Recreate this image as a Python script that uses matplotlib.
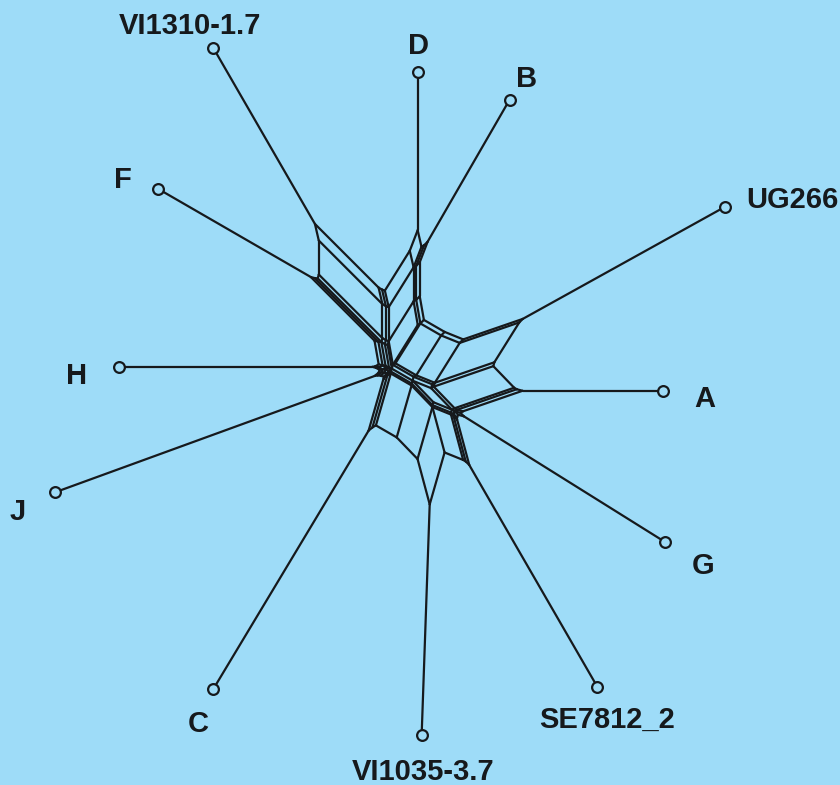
import numpy as np
import matplotlib
matplotlib.use("Agg")
import matplotlib.pyplot as plt
from matplotlib.collections import LineCollection

# ---- data -------------------------------------------------------------
taxa = ["VI1310-1.7", "D", "B", "UG266", "A", "G",
        "SE7812_2", "VI1035-3.7", "C", "J", "H", "F"]
# direction of each pendant edge (degrees), taxa in circular order
taxon_angle = [120, 90, 60, 29, 0, -32, -60, -92, -121, -160, -180, -210]
# pendant (trivial split) edge lengths
leaf_length = [203, 158, 164, 231, 140, 237, 256, 231, 302, 340, 253, 176]

# non-trivial circular splits: interval first..last (circular order),
# edge length and edge direction (degrees) after box opening
split_first = [11, 0, 0, 1, 1, 3, 3, 3, 3, 4, 6, 7, 6,
               10, 9, 8, 9, 8, 2, 4, 5, 0, 10, 4, 6, 2, 9]
split_last = [0, 1, 2, 2, 3, 10, 6, 7, 4, 7, 7, 8, 8,
              11, 11, 10, 10, 9, 3, 5, 6, 3, 0, 6, 9, 4, 0]
split_weight = [90, 17, 34, 22, 47, 24, 20, 24, 63, 30, 47, 54, 2,
                4, 3, 4, 3, 5, 5, 6, 5, 4, 4, 3, 3, 3, 3]
split_angle = [135, 103, 90, 69, 58, -80, -22, -30, 19, -46, -75, -106, -90,
               165, 175, -150, -170, -140, 45, -15, -45, 75, 150, -30,
               -110, 30, 160]

# ---- layout parameters ------------------------------------------------
network_center = (396.5, 376.6)
label_offset = [(-23, 22), (1, 26), (17, 21), (68, 7), (42, -8), (38, -24),
                (10, -33), (1, -37), (-15, -35), (-38, -20), (-43, -9), (-36, 9)]
bg = "#9edcf8"
ink = "#16191c"

n = len(taxa)
firsts = list(range(n)) + split_first
lasts = list(range(n)) + split_last
weights = np.array(list(leaf_length) + split_weight, float)
theta = np.deg2rad(list(taxon_angle) + split_angle)
S = len(weights)
# split vectors in screen coordinates (y grows downward)
vec = np.c_[np.cos(theta), -np.sin(theta)] * weights[:, None]

# ---- planar split network as the dual of a chord arrangement ----------
rad = np.deg2rad(np.array(taxon_angle, float))
tpt = np.c_[np.cos(rad), np.sin(rad)]
gap = []
for k in range(n):
    nxt = rad[k + 1] if k + 1 < n else rad[0] - 2 * np.pi
    g = 0.5 * (rad[k] + nxt) + 0.011 * ((k * 7) % 5 - 2)
    gap.append([np.cos(g), np.sin(g)])
gap = np.array(gap)

P = np.array([gap[(i - 1) % n] for i in firsts])
Q = np.array([gap[j] for j in lasts])
R = np.array([tpt[i] for i in firsts])


def cross(a, b):
    return a[..., 0] * b[..., 1] - a[..., 1] * b[..., 0]


ref_side = np.sign(cross(Q - P, R - P))


def signature(pts):
    pts = np.atleast_2d(pts)
    s = np.sign(cross((Q - P)[None, :, :], pts[:, None, :] - P[None, :, :]))
    return (s == ref_side[None, :]).astype(int)


samples = []
for a in range(S):
    for b in range(a + 1, S):
        d1 = Q[a] - P[a]
        d2 = Q[b] - P[b]
        den = cross(d1, d2)
        if abs(den) < 1e-12:
            continue
        t = cross(P[b] - P[a], d2) / den
        u = cross(P[b] - P[a], d1) / den
        if 1e-9 < t < 1 - 1e-9 and 1e-9 < u < 1 - 1e-9:
            x = P[a] + t * d1
            for phi in np.linspace(0, 2 * np.pi, 24, endpoint=False):
                samples.append(x + 1e-8 * np.array([np.cos(phi), np.sin(phi)]))
for phi in np.linspace(0, 2 * np.pi, 14400, endpoint=False):
    samples.append((1 - 1e-7) * np.array([np.cos(phi), np.sin(phi)]))
sig = np.unique(signature(np.array(samples)), axis=0)

pos = sig @ vec
leaf_nodes = [int(np.where((signature(0.9999999 * tpt[k]) == sig).all(1))[0][0])
              for k in range(n)]
pos += np.array(network_center) - pos[leaf_nodes].mean(0)

ham = np.abs(sig[:, None, :] - sig[None, :, :]).sum(-1)
ea, eb = np.where(np.triu(ham == 1))
segments = [[pos[a], pos[b]] for a, b in zip(ea, eb)]

# ---- drawing ----------------------------------------------------------
fig = plt.figure(figsize=(8.4, 7.85), dpi=100, facecolor=bg)
ax = fig.add_axes([0, 0, 1, 1])
ax.set_facecolor(bg)
ax.set_xlim(0, 840)
ax.set_ylim(785, 0)
ax.set_aspect("equal")
ax.axis("off")

ax.add_collection(LineCollection(segments, colors=ink, linewidths=1.6,
                                 capstyle="round", joinstyle="round", zorder=2))
lp = pos[leaf_nodes]
ax.scatter(lp[:, 0], lp[:, 1], s=60, facecolor=bg, edgecolor=ink,
           linewidths=1.6, zorder=3)
for k, name in enumerate(taxa):
    ax.annotate(name, lp[k], xytext=label_offset[k], textcoords="offset pixels",
                ha="center", va="center", fontsize=21, fontweight="bold",
                family="Liberation Sans", color=ink)

fig.savefig("out.png", dpi=100, facecolor=bg)
